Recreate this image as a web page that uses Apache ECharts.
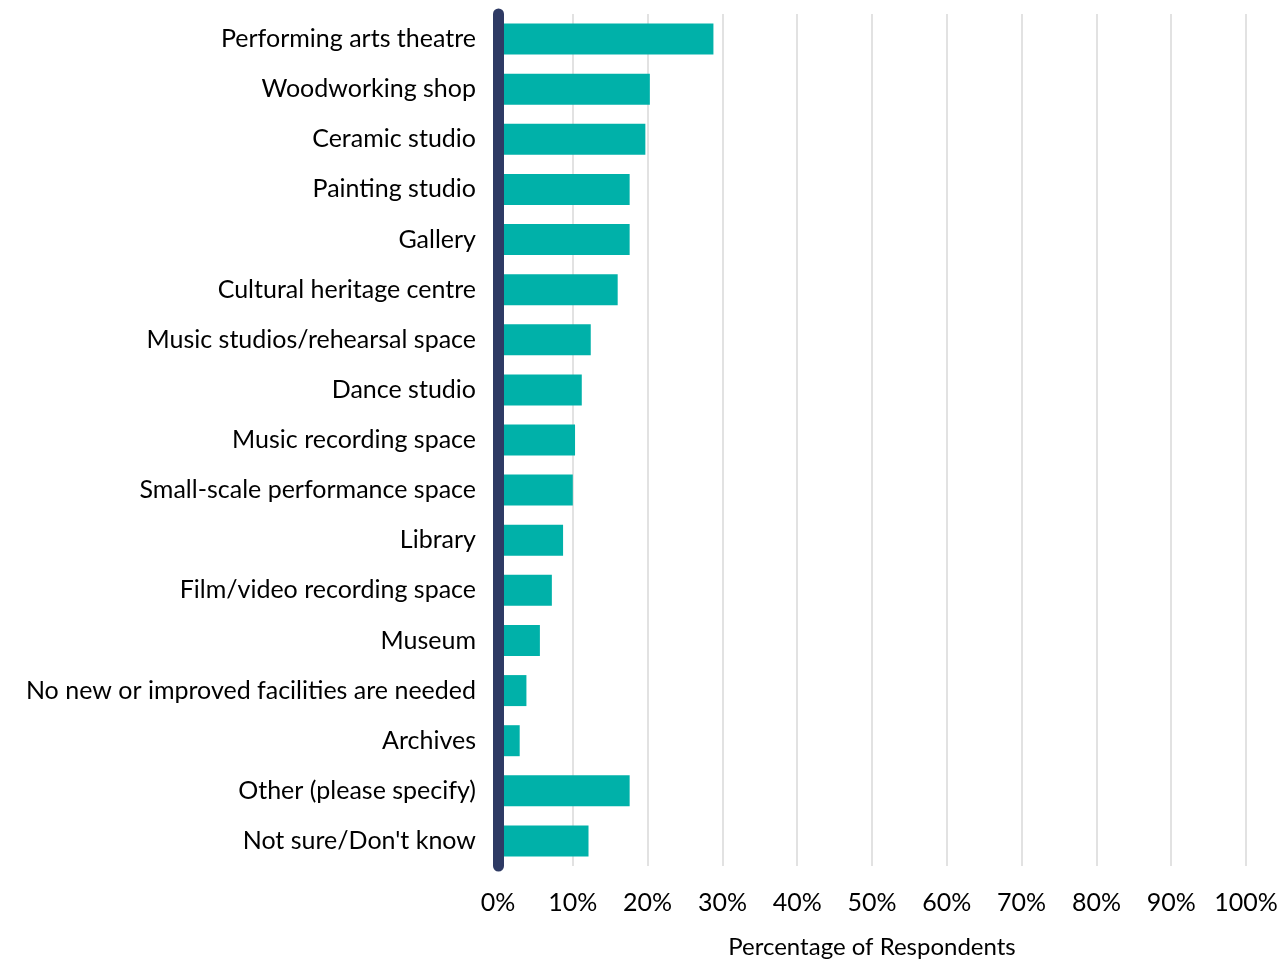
<!DOCTYPE html>
<html>
<head>
<meta charset="utf-8">
<script src="https://cdn.jsdelivr.net/npm/echarts@6/dist/echarts.min.js"></script>
<style>
  html, body { margin: 0; padding: 0; background: #fff; }
  #chart { width: 1281px; height: 962px; }
</style>
</head>
<body>
<div id="chart"></div>
<script>
// facilities, top to bottom
var categories = [
  'Performing arts theatre',
  'Woodworking shop',
  'Ceramic studio',
  'Painting studio',
  'Gallery',
  'Cultural heritage centre',
  'Music studios/rehearsal space',
  'Dance studio',
  'Music recording space',
  'Small-scale performance space',
  'Library',
  'Film/video recording space',
  'Museum',
  'No new or improved facilities are needed',
  'Archives',
  'Other (please specify)',
  "Not sure/Don't know"
];
// percent of respondents
var values = [28.8, 20.3, 19.7, 17.6, 17.6, 16.0, 12.4, 11.2, 10.3, 10.0, 8.7, 7.2, 5.6, 3.8, 2.9, 17.6, 12.1];
var xTicks = [0, 10, 20, 30, 40, 50, 60, 70, 80, 90, 100];

var FONT = 'Lato';

var myChart = echarts.init(document.getElementById('chart'));
myChart.setOption({
  animation: false,
  grid: { left: 498, right: 35, top: 14, height: 852, containLabel: false, outerBoundsMode: 'none' },
  xAxis: {
    type: 'value',
    min: xTicks[0],
    max: xTicks[xTicks.length - 1],
    interval: 10,
    axisLine: { show: false },
    axisTick: { show: false },
    axisLabel: {
      formatter: '{value}%',
      color: '#000',
      fontFamily: FONT,
      fontSize: 25,
      margin: 24
    },
    splitLine: { show: true, lineStyle: { color: '#d9d9d9', width: 1.5 } },
    name: 'Percentage of Respondents',
    nameLocation: 'middle',
    nameGap: 69,
    nameTextStyle: { color: '#000', fontFamily: FONT, fontSize: 24 }
  },
  yAxis: {
    type: 'category',
    inverse: true,
    data: categories,
    z: 5,
    axisLine: { show: true, lineStyle: { color: '#2e3a64', width: 11, cap: 'round' } },
    axisTick: { show: false },
    axisLabel: {
      color: '#000',
      fontFamily: FONT,
      fontSize: 25,
      margin: 22
    }
  },
  series: [{
    type: 'bar',
    data: values,
    barWidth: 31,
    itemStyle: { color: '#00b1a9' }
  }]
});
</script>
</body>
</html>
